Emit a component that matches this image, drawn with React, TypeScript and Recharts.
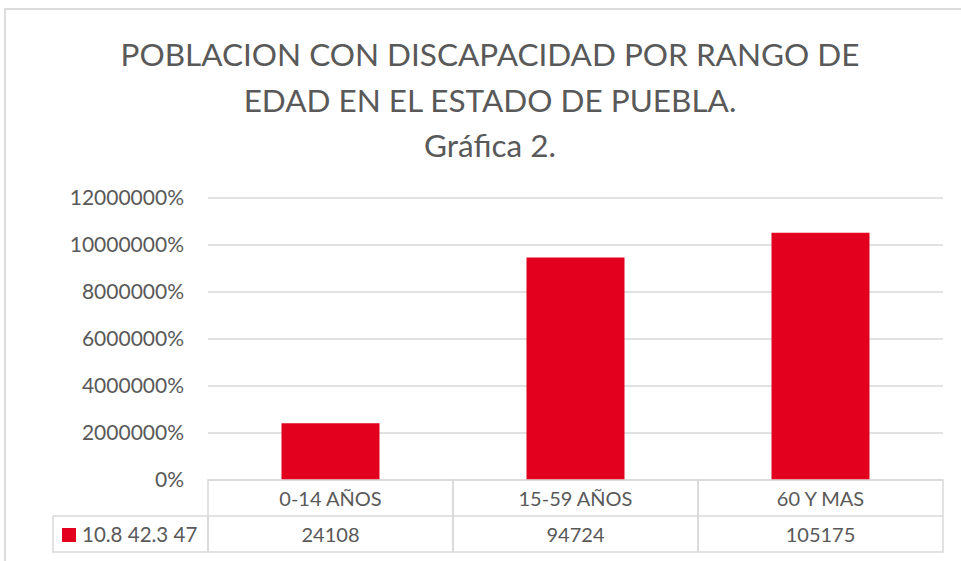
import React from 'react';
import { BarChart, Bar, XAxis, YAxis, CartesianGrid } from 'recharts';

const categories = ['0-14 AÑOS', '15-59 AÑOS', '60 Y MAS'];
const values = [24108, 94724, 105175];
const yTicks = [0, 20000, 40000, 60000, 80000, 100000, 120000];
const seriesName = '10.8 42.3 47';
const titleLines = ['POBLACION CON DISCAPACIDAD POR RANGO DE', 'EDAD EN EL ESTADO DE PUEBLA.', 'Gráfica 2.'];

const chartData = categories.map((c, i) => ({ category: c, value: values[i] }));

const RED = '#E2001E';
const GRID = '#d9d9d9';
const TEXT = '#595959';
const FONT = 'Lato, "Open Sans", sans-serif';
const BAND = 245;
const ROW = 36;
const LEGEND_W = 155;

const TableTick = ({ x, y, payload, index }: any) => {
  const left = x - BAND / 2;
  const i = payload.index ?? index;
  return (
    <g>
      <rect x={left} y={y} width={BAND} height={ROW * 2} fill="none" stroke={GRID} strokeWidth={1.5} />
      <line x1={left} x2={left + BAND} y1={y + ROW} y2={y + ROW} stroke={GRID} strokeWidth={1.5} />
      <text x={x} y={y + ROW / 2} textAnchor="middle" dominantBaseline="central" fill={TEXT} fontSize={20} fontFamily={FONT}>
        {payload.value}
      </text>
      <text x={x} y={y + ROW * 1.5} textAnchor="middle" dominantBaseline="central" fill={TEXT} fontSize={20} fontFamily={FONT}>
        {values[i]}
      </text>
      {i === 0 && (
        <g>
          <rect x={left - LEGEND_W} y={y + ROW} width={LEGEND_W} height={ROW} fill="none" stroke={GRID} strokeWidth={1.5} />
          <rect x={left - LEGEND_W + 9} y={y + ROW + 12} width={14} height={14} fill={RED} />
          <text x={left - LEGEND_W + 29} y={y + ROW * 1.5} textAnchor="start" dominantBaseline="central" fill={TEXT} fontSize={20.5} fontFamily={FONT}>
            {seriesName}
          </text>
        </g>
      )}
    </g>
  );
};

const App: React.FC = () => {
  return (
    <div style={{ position: 'absolute', left: 0, top: 0, width: 961, height: 561, overflow: 'hidden', background: '#fff' }}>
      <div style={{ position: 'absolute', left: 4, top: 8, width: 1000, height: 600, border: '2px solid #dcdcdc' }} />
      <div
        style={{
          position: 'absolute', left: 0, top: 32, width: 980, textAlign: 'center',
          fontFamily: FONT, fontSize: 31.5, fontWeight: 400, lineHeight: '45.5px', color: TEXT,
        }}
      >
        {titleLines.map((t) => <div key={t}>{t}</div>)}
      </div>
      <div style={{ position: 'absolute', left: 0, top: 0 }}>
        <BarChart
          width={961}
          height={561}
          data={chartData}
          margin={{ top: 198, right: 18, left: 0, bottom: 9 }}
          barCategoryGap="30%"
        >
          <CartesianGrid vertical={false} stroke={GRID} strokeWidth={1.5} />
          <XAxis
            dataKey="category"
            axisLine={false}
            tickLine={false}
            tickSize={0}
            tickMargin={0}
            height={72}
            interval={0}
            tick={<TableTick />}
          />
          <YAxis
            width={208}
            domain={[0, 120000]}
            ticks={yTicks}
            axisLine={false}
            tickLine={false}
            tickSize={0}
            tickMargin={24}
            tick={{ fill: TEXT, fontSize: 21, fontFamily: FONT }}
            tickFormatter={(v: number) => `${v * 100}%`}
          />
          <Bar dataKey="value" fill={RED} isAnimationActive={false} />
        </BarChart>
      </div>
    </div>
  );
};

export default App;
